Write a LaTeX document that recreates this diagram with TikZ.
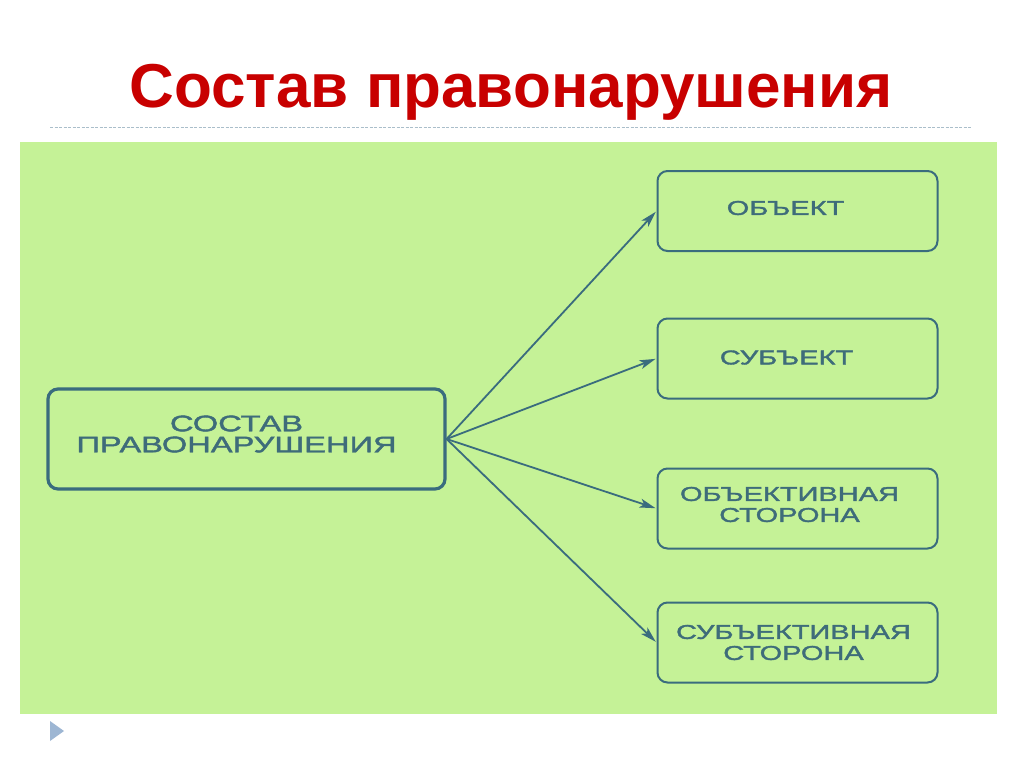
\documentclass[tikz,border=0pt]{standalone}
\usepackage{fontspec}
\setmainfont{Liberation Sans}
\newfontfamily\boxfont[FakeStretch=1.45,FakeBold=1.8]{Liberation Sans}
\usetikzlibrary{arrows.meta}
\definecolor{bg}{RGB}{197,242,151}
\definecolor{titlered}{RGB}{200,0,0}
\definecolor{frame}{RGB}{58,108,126}
\definecolor{txt}{RGB}{62,108,122}
\definecolor{dashc}{RGB}{170,190,202}
\definecolor{bulletc}{RGB}{157,182,211}
\tikzset{
  bigbox/.style={draw=frame, line width=3.2pt, rounded corners=10pt, minimum width=397pt, minimum height=100pt, inner sep=0pt},
  smallbox/.style={draw=frame, line width=2pt, rounded corners=10pt, minimum width=280pt, minimum height=80pt, inner sep=0pt},
  bigtext/.style={align=center, text=txt, inner sep=0pt, font=\boxfont\fontsize{22.5}{21}\selectfont},
  smalltext/.style={align=center, text=txt, inner sep=0pt, font=\boxfont\fontsize{20}{21}\selectfont},
  arr/.style={draw=frame, line width=1.8pt, -{Stealth[length=16pt,width=9pt,inset=4pt]}, shorten >=1pt},
  titlestyle/.style={text=titlered, font=\bfseries\fontsize{62}{62}\selectfont, inner sep=0pt, anchor=base}
}
\begin{document}
\begin{tikzpicture}[x=1pt,y=-1pt]
\useasboundingbox (0,0) rectangle (1024,768);
\fill[white] (0,0) rectangle (1024,768);
\node[titlestyle] (title) at (511,107) {Состав правонарушения};
\draw[dashc, line width=1pt, dash pattern=on 3pt off 1.5pt] (50,127) -- (972,127);
\fill[bg] (20,142) rectangle (997,714);
\fill[bulletc] (50,721) -- (64,731) -- (50,741) -- cycle;
\node[bigbox, label={[bigtext, xshift=-10pt, yshift=5pt]center:СОСТАВ\\ПРАВОНАРУШЕНИЯ}] (src) at (246.5,439) {};
\node[smallbox, label={[smalltext, xshift=-12pt, yshift=3pt]center:ОБЪЕКТ}] (t1) at (797.5,211) {};
\node[smallbox, label={[smalltext, xshift=-11pt, yshift=1pt]center:СУБЪЕКТ}] (t2) at (797.5,358.5) {};
\node[smallbox, label={[smalltext, xshift=-8pt, yshift=4pt]center:ОБЪЕКТИВНАЯ\\СТОРОНА}] (t3) at (797.5,508.5) {};
\node[smallbox, label={[smalltext, xshift=-4pt, yshift=0pt]center:СУБЪЕКТИВНАЯ\\СТОРОНА}] (t4) at (797.5,642.5) {};
\draw[arr] (src.east) -- (t1.west);
\draw[arr] (src.east) -- (t2.west);
\draw[arr] (src.east) -- (t3.west);
\draw[arr] (src.east) -- (t4.west);
\end{tikzpicture}
\end{document}
